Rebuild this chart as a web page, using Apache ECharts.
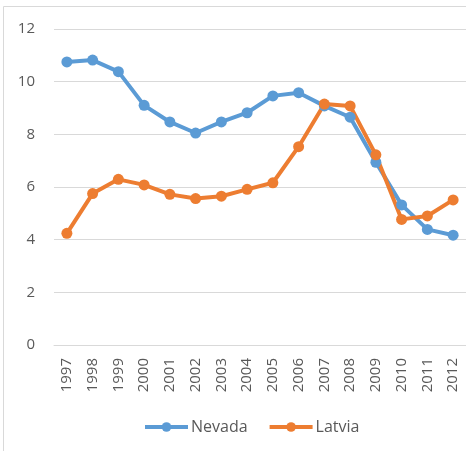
<!DOCTYPE html>
<html>
<head>
<meta charset="utf-8">
<script src="https://cdn.jsdelivr.net/npm/echarts@6/dist/echarts.min.js"></script>
<style>html,body{margin:0;padding:0;background:#fff}#c{width:466px;height:451px}</style>
</head>
<body>
<div id="c"></div>
<script>
const years = ['1997','1998','1999','2000','2001','2002','2003','2004','2005','2006','2007','2008','2009','2010','2011','2012'];
const nevada = [10.75,10.82,10.38,9.10,8.47,8.05,8.47,8.82,9.46,9.58,9.08,8.65,6.94,5.32,4.39,4.17];
const latvia = [4.24,5.75,6.29,6.08,5.72,5.56,5.65,5.91,6.16,7.53,9.15,9.08,7.22,4.77,4.90,5.51];
const seriesNames = ['Nevada','Latvia'];
const font = '"Open Sans", sans-serif';
const chart = echarts.init(document.getElementById('c'));
chart.setOption({
  animation: false,
  textStyle: { fontFamily: font },
  graphic: [{
    type: 'rect', silent: true, z: -1,
    shape: { x: 3.5, y: 6.5, width: 600, height: 600 },
    style: { fill: 'none', stroke: '#d9d9d9', lineWidth: 1 }
  }],
  grid: { left: 54, right: 0, top: 29, bottom: 106, containLabel: false },
  legend: {
    left: 138, top: 414,
    itemWidth: 43, itemHeight: 12, itemGap: 20,
    lineStyle: { width: 4 },
    textStyle: { color: '#595959', fontSize: 16, fontFamily: font, padding: [0, 0, 0, -2] },
    data: seriesNames
  },
  xAxis: {
    type: 'category', data: years, boundaryGap: true,
    axisLine: { show: true, lineStyle: { color: '#d9d9d9', width: 1 } },
    axisTick: { show: false },
    axisLabel: { rotate: 90, margin: 13, color: '#595959', fontSize: 15, fontFamily: font, interval: 0 }
  },
  yAxis: {
    type: 'value', min: 0, max: 12, interval: 2,
    axisLine: { show: false }, axisTick: { show: false },
    splitLine: { lineStyle: { color: '#d9d9d9', width: 1 } },
    axisLabel: { margin: 19, color: '#595959', fontSize: 15, fontFamily: font }
  },
  series: [
    { name: seriesNames[0], type: 'line', data: nevada, symbol: 'circle', symbolSize: 11,
      itemStyle: { color: '#5B9BD5' }, lineStyle: { color: '#5B9BD5', width: 4 } },
    { name: seriesNames[1], type: 'line', data: latvia, symbol: 'circle', symbolSize: 11,
      itemStyle: { color: '#ED7D31' }, lineStyle: { color: '#ED7D31', width: 4 } }
  ]
});
</script>
</body>
</html>
